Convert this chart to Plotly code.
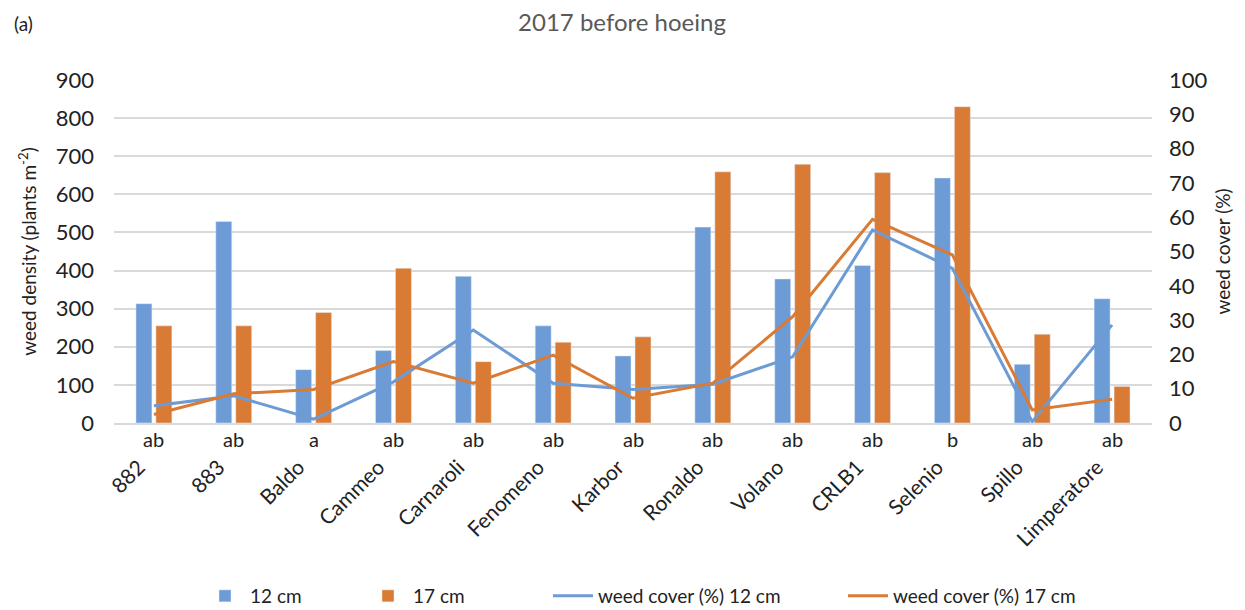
import plotly.graph_objects as go

categories = ["882", "883", "Baldo", "Cammeo", "Carnaroli", "Fenomeno", "Karbor",
              "Ronaldo", "Volano", "CRLB1", "Selenio", "Spillo", "Limperatore"]
letters = ["ab", "ab", "a", "ab", "ab", "ab", "ab", "ab", "ab", "ab", "b", "ab", "ab"]
density_12 = [313, 529, 140, 190, 385, 255, 176, 514, 378, 413, 643, 154, 326]
density_17 = [255, 255, 290, 406, 161, 212, 226, 659, 679, 657, 830, 233, 96]
cover_12 = [5.0, 7.9, 1.1, 12.0, 27.1, 11.6, 9.8, 11.3, 19.3, 56.3, 45.1, 0.4, 28.6]
cover_17 = [2.5, 8.5, 9.8, 17.9, 11.6, 19.8, 7.2, 11.6, 31.0, 59.4, 49.0, 3.8, 6.9]

BLUE = "#6d9bd6"
ORANGE = "#d97b35"
FONT = "Lato"
TXT = "#222"

W, H = 1237, 602  # page has an 8 px body margin

fig = go.Figure()
fig.add_trace(go.Bar(x=categories, y=density_12, name="12 cm", marker_color=BLUE, legend="legend"))
fig.add_trace(go.Bar(x=categories, y=density_17, name="17 cm", marker_color=ORANGE, legend="legend2"))
fig.add_trace(go.Scatter(x=categories, y=cover_12, name="weed cover (%) 12 cm", mode="lines",
                         line=dict(color=BLUE, width=3), yaxis="y2", legend="legend3"))
fig.add_trace(go.Scatter(x=categories, y=cover_17, name="weed cover (%) 17 cm", mode="lines",
                         line=dict(color=ORANGE, width=3), yaxis="y2", legend="legend4"))

for i, l in enumerate(letters):
    fig.add_annotation(x=i, y=0, xref="x", yref="paper", text=l, showarrow=False,
                       yanchor="top", yshift=-2, font=dict(size=20, color=TXT, family=FONT))

fig.add_annotation(x=-0.098, y=1.205, xref="paper", yref="paper", xanchor="left", yanchor="top",
                   text="(a)", showarrow=False, font=dict(size=19, color=TXT, family=FONT))

def leg(px):
    return dict(orientation="h", x=(px - 114) / 1038, xanchor="left",
                yref="container", y=1 - 588 / H, yanchor="middle",
                font=dict(size=19, family=FONT, color=TXT), itemwidth=40, bgcolor="rgba(0,0,0,0)")

fig.update_layout(
    width=W, height=H,
    paper_bgcolor="white", plot_bgcolor="white",
    margin=dict(l=106, r=93, t=72, b=187, autoexpand=False),
    font=dict(family=FONT, color=TXT, size=18),
    title=dict(text="2017 before hoeing", x=(622 - 8) / W, xanchor="center", y=1 - 15 / H, yanchor="middle",
               font=dict(size=24, color="#595959", family=FONT)),
    barmode="group", bargap=0.5, bargroupgap=0.2,
    xaxis=dict(type="category", range=[-0.5, 12.5], tickangle=-45, showline=True, linecolor="#d9d9d9",
               linewidth=1.5, ticks="", ticklabelstandoff=22, ticklabelshift=-15, automargin=False,
               tickfont=dict(size=21, family=FONT, color=TXT)),
    yaxis=dict(range=[0, 900], dtick=100, showgrid=True, gridcolor="#d9d9d9", gridwidth=1.5,
               zeroline=False, tickfont=dict(size=22, family=FONT, color=TXT), ticklabelstandoff=19,
               automargin=False,
               title=dict(text="weed density (plants m<sup>-2</sup>)", font=dict(size=19, family=FONT), standoff=14)),
    yaxis2=dict(range=[0, 100], dtick=10, overlaying="y", side="right", showgrid=False,
                zeroline=False, tickfont=dict(size=22, family=FONT, color=TXT), ticklabelstandoff=16,
                automargin=False,
                title=dict(text="weed cover (%)", font=dict(size=19, family=FONT), standoff=10)),
    legend=leg(200),
    legend2=leg(363),
    legend3=leg(548),
    legend4=leg(843),
    showlegend=True,
)

fig.write_html("out.html")
